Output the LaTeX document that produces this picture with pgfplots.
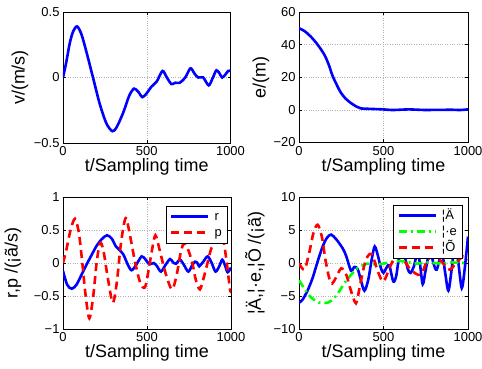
\documentclass[border=0pt]{standalone}
\usepackage{fontspec}
\setmainfont{Liberation Sans}
\usepackage{pgfplots}
\pgfplotsset{compat=1.18}

\pgfplotstableread{
t v
0 0
20 0.12
40 0.26
60 0.35
84 0.39
110 0.33
139 0.2
179 0
219 -0.2
259 -0.35
295 -0.41
320 -0.38
359 -0.27
395 -0.14
424 -0.085
450 -0.11
474 -0.15
500 -0.12
528 -0.07
560 -0.03
594 0.05
620 0
647 -0.05
670 -0.04
697 -0.04
730 0
761 0.07
785 0.03
807 0
837 0
870 -0.06
895 0
916 0.055
935 0.03
950 0
968 0.02
986 0.05
1000 0.05
}\tabV

\pgfplotstableread{
t e
0 50
30 48.5
69 45
110 40
149 34
175 28
198 21
225 15
248 10.5
275 7
307 4.2
340 2
366 0.9
400 0.7
450 0.5
500 0.3
550 -0.1
600 0.1
650 0.3
700 0.1
750 -0.1
800 0
850 0
900 0.1
950 -0.1
1000 0.3
}\tabE

\pgfplotstableread{
t r
0 -0.12
25 -0.33
52 -0.39
80 -0.33
110 -0.18
139 -0.03
170 0.12
200 0.26
230 0.36
262 0.42
290 0.37
315 0.25
335 0.2
359 0.13
385 -0.02
408 -0.11
435 -0.03
468 0.1
492 0.05
514 -0.02
540 0.0
560 -0.05
583 -0.13
610 -0.03
637 0.06
655 0.01
673 -0.01
696 0.05
720 -0.03
746 -0.13
770 -0.03
786 0.02
800 0.0
811 -0.05
835 0.02
861 0.1
885 0.0
908 -0.13
930 -0.05
948 0.05
965 -0.04
980 -0.14
1000 -0.07
}\tabR

\pgfplotstableread{
t p
0 0
20 0.2
45 0.5
71 0.67
95 0.45
115 0.0
135 -0.5
157 -0.84
180 -0.5
200 0.0
220 0.3
240 0.2
265 -0.2
296 -0.6
320 -0.3
345 0.3
373 0.68
400 0.4
430 0.0
460 -0.3
488 -0.37
510 -0.1
530 0.2
550 0.42
575 0.2
610 -0.15
648 -0.4
675 -0.2
700 0.15
720 0.3
745 0.2
770 0.0
790 -0.25
815 -0.4
840 -0.2
860 0.0
880 0.2
905 0.35
930 0.42
954 0.35
975 0.0
994 -0.4
1000 -0.42
}\tabP

\pgfplotstableread{
t d
0 -6
20 -5.6
50 -4.2
80 -2.3
110 0.2
140 2.5
165 3.8
190 4.3
220 3.6
259 2.2
280 1.0
308 -1.2
327 -0.6
347 -0.9
365 -2.5
387 -4.2
410 -2.5
430 0.5
448 2.5
468 1.0
485 -0.8
500 -1.5
520 -0.6
535 -0.4
558 -2.8
575 -2.0
590 0.5
612 2.0
630 0.5
645 -1.0
660 -1.5
680 -0.5
700 1.5
715 0.0
732 -3.2
750 -1.0
775 2.0
795 0.0
815 -1.0
845 1.5
865 -1.5
884 -4.2
903 -1.0
923 3.0
943 0.0
963 -3.8
980 -1.0
1000 4.0
}\tabD

\pgfplotstableread{
t s
0 -2.6
30 -3.8
60 -4.9
90 -5.6
120 -6.0
170 -6.0
205 -5.4
238 -4.3
270 -3.0
308 -1.8
335 -1.0
357 -0.6
380 -0.3
405 -0.1
450 -0.2
500 -0.1
550 0.2
600 0.3
650 0.1
700 -0.1
750 0.1
800 0
850 -0.1
900 0.1
950 0
1000 0
}\tabS

\pgfplotstableread{
t f
0 -0.05
32 -1.0
60 1.5
85 4.5
110 5.8
135 4.0
160 0.0
189 -3.1
219 -2.2
250 -0.8
280 -1.8
305 -4.0
337 -6.1
360 -3.5
385 -0.5
406 1.0
432 1.3
470 -1.5
500 -2.8
540 -0.5
580 1.2
620 0.5
660 -1.0
720 -1.8
760 0.5
800 1.0
840 0.3
890 -1.0
930 0.0
970 1.0
1000 0.5
}\tabF

\pgfplotsset{
 myax/.style={
  scale only axis,
  xmin=0, xmax=1000, xtick={0,500,1000}, xticklabels={0,500,1000},
  grid=major, grid style={dotted, gray!60, line width=0.5bp},
  tick align=inside, major tick length=3bp,
  tick style={black, line width=0.5bp},
  axis line style={line width=0.7bp},
  tick label style={font=\fontsize{13}{13}\selectfont},
  label style={font=\fontsize{18}{18}\selectfont},
  xlabel={t/Sampling time},
  xlabel style={at={(axis description cs:0.5,0)}, anchor=center, yshift=-24bp},
  legend image code/.code={\draw[##1, line width=2.6bp] (0bp,0bp) -- (37bp,0bp);},
  legend cell align=left,
 },
 blueline/.style={blue, line width=2.6bp, smooth, tension=0.5},
 redline/.style={red, line width=2.6bp, smooth, tension=0.5, dash pattern=on 8bp off 5bp},
 greenline/.style={green, line width=2.6bp, smooth, tension=0.5, dash pattern=on 8bp off 4bp on 2bp off 4bp},
 mylegend/.style={font=\fontsize{13}{13}\selectfont, draw=black,
   inner xsep=4bp, inner ysep=2.5bp, row sep=0bp,
   nodes={inner sep=1bp, text height=10.5bp, text depth=3.5bp},
   /tikz/every odd column/.append style={column sep=4bp}},
}

\begin{document}
\begin{tikzpicture}
% top left
\begin{axis}[myax, at={(63bp,226bp)}, anchor=south west, width=167.5bp, height=131bp,
  ymin=-0.5, ymax=0.5, ytick={-0.5,0,0.5}, yticklabels={−0.5,0,0.5},
  ylabel={v/(m/s)},
  ylabel style={at={(axis description cs:0,0.5)}, anchor=center, yshift=43bp}]
\addplot[blueline] table[x=t,y=v] {\tabV};
\end{axis}
% top right
\begin{axis}[myax, at={(299bp,226.5bp)}, anchor=south west, width=169bp, height=130.5bp,
  ymin=-20, ymax=60, ytick={-20,0,20,40,60}, yticklabels={−20,0,20,40,60},
  ylabel={e/(m)},
  ylabel style={at={(axis description cs:0,0.5)}, anchor=center, yshift=38bp}]
\addplot[blueline] table[x=t,y=e] {\tabE};
\end{axis}
% bottom left
\begin{axis}[myax, at={(63bp,40bp)}, anchor=south west, width=168bp, height=132bp,
  ymin=-1, ymax=1, ytick={-1,-0.5,0,0.5,1}, yticklabels={−1,−0.5,0,0.5,1},
  ylabel={r,p /(¡ã/s)},
  ylabel style={at={(axis description cs:0,0.5)}, anchor=center, yshift=50bp},
  legend style={mylegend, at={(1,1)}, anchor=north east, xshift=-4bp, yshift=-9bp}]
\addplot[blueline] table[x=t,y=r] {\tabR};
\addlegendentry{r}
\addplot[redline] table[x=t,y=p] {\tabP};
\addlegendentry{p}
\end{axis}
% bottom right
\begin{axis}[myax, at={(299bp,40bp)}, anchor=south west, width=169bp, height=132bp,
  ymin=-10, ymax=10, ytick={-10,-5,0,5,10}, yticklabels={−10,−5,0,5,10},
  ylabel={¦Ä,¦·e,¦Õ /(¡ã)},
  ylabel style={at={(axis description cs:0,0.5)}, anchor=center, yshift=44bp},
  legend style={mylegend, at={(1,1)}, anchor=north east, xshift=-6bp, yshift=-8bp}]
\addplot[blueline] table[x=t,y=d] {\tabD};
\addlegendentry{¦Ä}
\addplot[greenline] table[x=t,y=s] {\tabS};
\addlegendentry{¦·e}
\addplot[redline] table[x=t,y=f] {\tabF};
\addlegendentry{¦Õ}
\end{axis}
\pgfresetboundingbox
\useasboundingbox (0bp,0bp) rectangle (482bp,369bp);
\end{tikzpicture}
\end{document}
